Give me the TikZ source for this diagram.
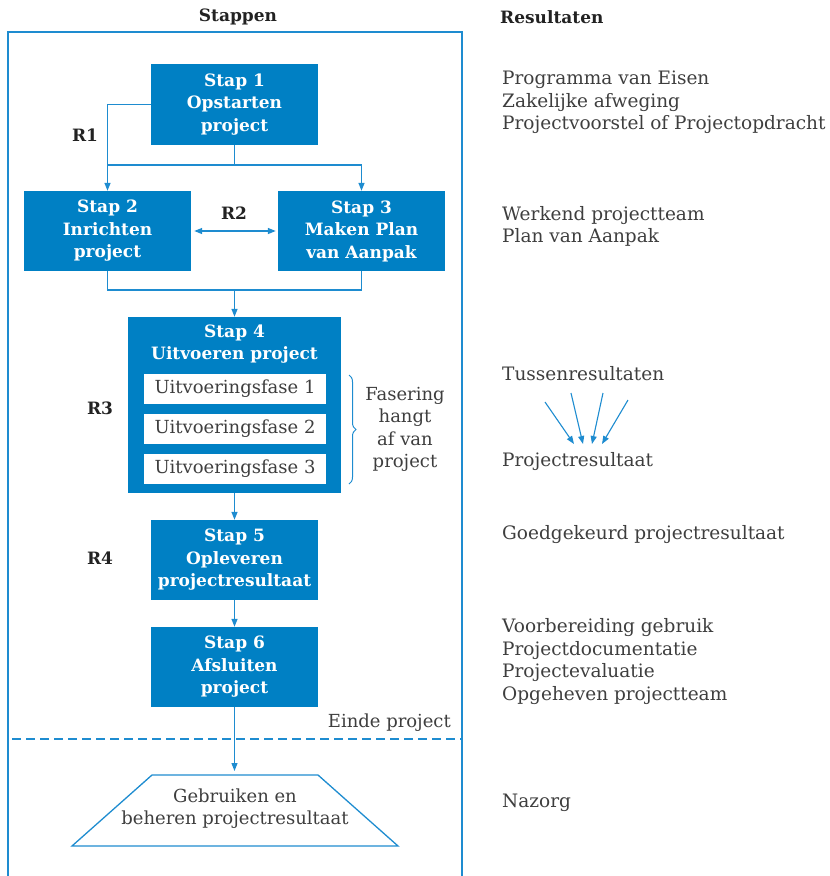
\documentclass[tikz,border=0pt]{standalone}
\usepackage{fontspec}
\setmainfont{DejaVu Serif}
\usetikzlibrary{arrows.meta,decorations.pathreplacing}
\definecolor{boxblue}{RGB}{0,128,196}
\definecolor{lineblue}{RGB}{30,140,208}
\definecolor{txt}{RGB}{62,62,62}
\definecolor{dark}{RGB}{34,34,34}
\tikzset{
  ln/.style={draw=lineblue, line width=1.3pt},
  arr/.style={ln, -{Triangle[length=8pt,width=6pt]}},
  darr/.style={ln, {Triangle[length=8pt,width=6pt]}-{Triangle[length=8pt,width=6pt]}},
  stepbox/.style={fill=boxblue, text=white, inner sep=0pt, align=center,
    font=\fontsize{17}{22.5}\selectfont\bfseries},
  fasebox/.style={fill=white, text=txt, inner sep=0pt, minimum width=182pt, minimum height=30pt,
    font=\fontsize{18}{22.5}\selectfont},
  res/.style={anchor=west, text=txt, align=left, inner sep=0pt,
    font=\fontsize{18.5}{22.5}\selectfont},
  rlab/.style={text=dark, inner sep=0pt, font=\fontsize{17}{22.5}\selectfont\bfseries},
  plain/.style={text=txt, inner sep=0pt, align=center, font=\fontsize{18}{22.5}\selectfont},
}
\begin{document}
\begin{tikzpicture}[x=1pt,y=-1pt]
\useasboundingbox (0,0) rectangle (830,876);
% titles
\node[rlab] (tstap) at (238,17) {Stappen};
\node[rlab, anchor=west] (tres) at (500,17) {Resultaten};
% frame
\draw[ln] (8,880) -- (8,32) -- (462,32) -- (462,880);
% step boxes
\node[stepbox, minimum width=167pt, minimum height=81pt] (s1) at (234.5,104.5) {Stap 1\\Opstarten\\project};
\node[stepbox, minimum width=167pt, minimum height=80pt] (s2) at (107.5,231) {Stap 2\\Inrichten\\project};
\node[stepbox, minimum width=167pt, minimum height=80pt] (s3) at (361.5,231) {Stap 3\\Maken Plan\\van Aanpak};
\node[fill=boxblue, minimum width=213pt, minimum height=176pt, inner sep=0pt] (s4) at (234.5,405) {};
\node[stepbox] (s4t) at (234.5,344) {Stap 4\\Uitvoeren project};
\node[fasebox] (f1) at (235,389) {Uitvoeringsfase 1};
\node[fasebox] (f2) at (235,429) {Uitvoeringsfase 2};
\node[fasebox] (f3) at (235,469) {Uitvoeringsfase 3};
\node[stepbox, minimum width=167pt, minimum height=80pt] (s5) at (234.5,560) {Stap 5\\Opleveren\\projectresultaat};
\node[stepbox, minimum width=167pt, minimum height=80pt] (s6) at (234.5,667) {Stap 6\\Afsluiten\\project};
% R labels
\node[rlab] (r1) at (85,135) {R1};
\node[rlab] (r2) at (234,213) {R2};
\node[rlab] (r3) at (100,408) {R3};
\node[rlab] (r4) at (100,558) {R4};
% connectors top
\coordinate (j1) at (234.5,165);
\coordinate (j2) at (234.5,290);
\draw[arr] (s1.west) -| (s2.north);
\draw[ln] (s1.south) -- (j1);
\draw[ln] (s2.north |- j1) -- (s3.north |- j1);
\draw[arr] (s3.north |- j1) -- (s3.north);
\draw[darr, shorten <=3pt, shorten >=2pt] (s2.east) -- (s3.west);
\draw[ln] (s2.south) |- (j2);
\draw[ln] (s3.south) |- (j2);
\draw[arr] (j2) -- (s4.north);
\draw[arr] (s4.south) -- (s5.north);
\draw[arr] (s5.south) -- (s6.north);
% brace and fasering
\draw[ln, line width=1pt, decorate, decoration={brace, amplitude=7pt}] (349,375) -- (349,484);
\node[plain] (fas) at (405,429.5) {Fasering\\hangt\\af van\\project};
% einde project
\draw[ln, dash pattern=on 9pt off 5pt] (12,739) -- (462,739);
\node[plain, anchor=east] (einde) at (451,723) {Einde project};
% trapezoid
\coordinate (usetop) at (234.5,775);
\draw[ln] (152,775) -- (318,775) -- (398,846) -- (72,846) -- cycle;
\node[plain] (use) at (235,808.5) {Gebruiken en\\beheren projectresultaat};
\draw[arr, shorten >=4pt] (s6.south) -- (usetop);
% results
\node[res] (res1) at (502,102.5) {Programma van Eisen\\Zakelijke afweging\\Projectvoorstel of Projectopdracht};
\node[res] (res2) at (502,226.5) {Werkend projectteam\\Plan van Aanpak};
\node[res] (res3) at (502,374) {Tussenresultaten};
\node[res] (res4) at (502,462) {Projectresultaat};
\node[res] (res5) at (502,535) {Goedgekeurd projectresultaat};
\node[res] (res6) at (502,661.5) {Voorbereiding gebruik\\Projectdocumentatie\\Projectevaluatie\\Opgeheven projectteam};
\node[res] (res7) at (502,803) {Nazorg};
% small arrows
\coordinate (a1) at (545,402); \coordinate (b1) at (574,444);
\coordinate (a2) at (571,393); \coordinate (b2) at (583,444);
\coordinate (a3) at (603,393); \coordinate (b3) at (592,444);
\coordinate (a4) at (628,400); \coordinate (b4) at (602,444);
\foreach \i in {1,...,4} {\draw[ln, line width=1.1pt, -{Triangle[length=8pt,width=6pt]}] (a\i) -- (b\i);}
\end{tikzpicture}
\end{document}
